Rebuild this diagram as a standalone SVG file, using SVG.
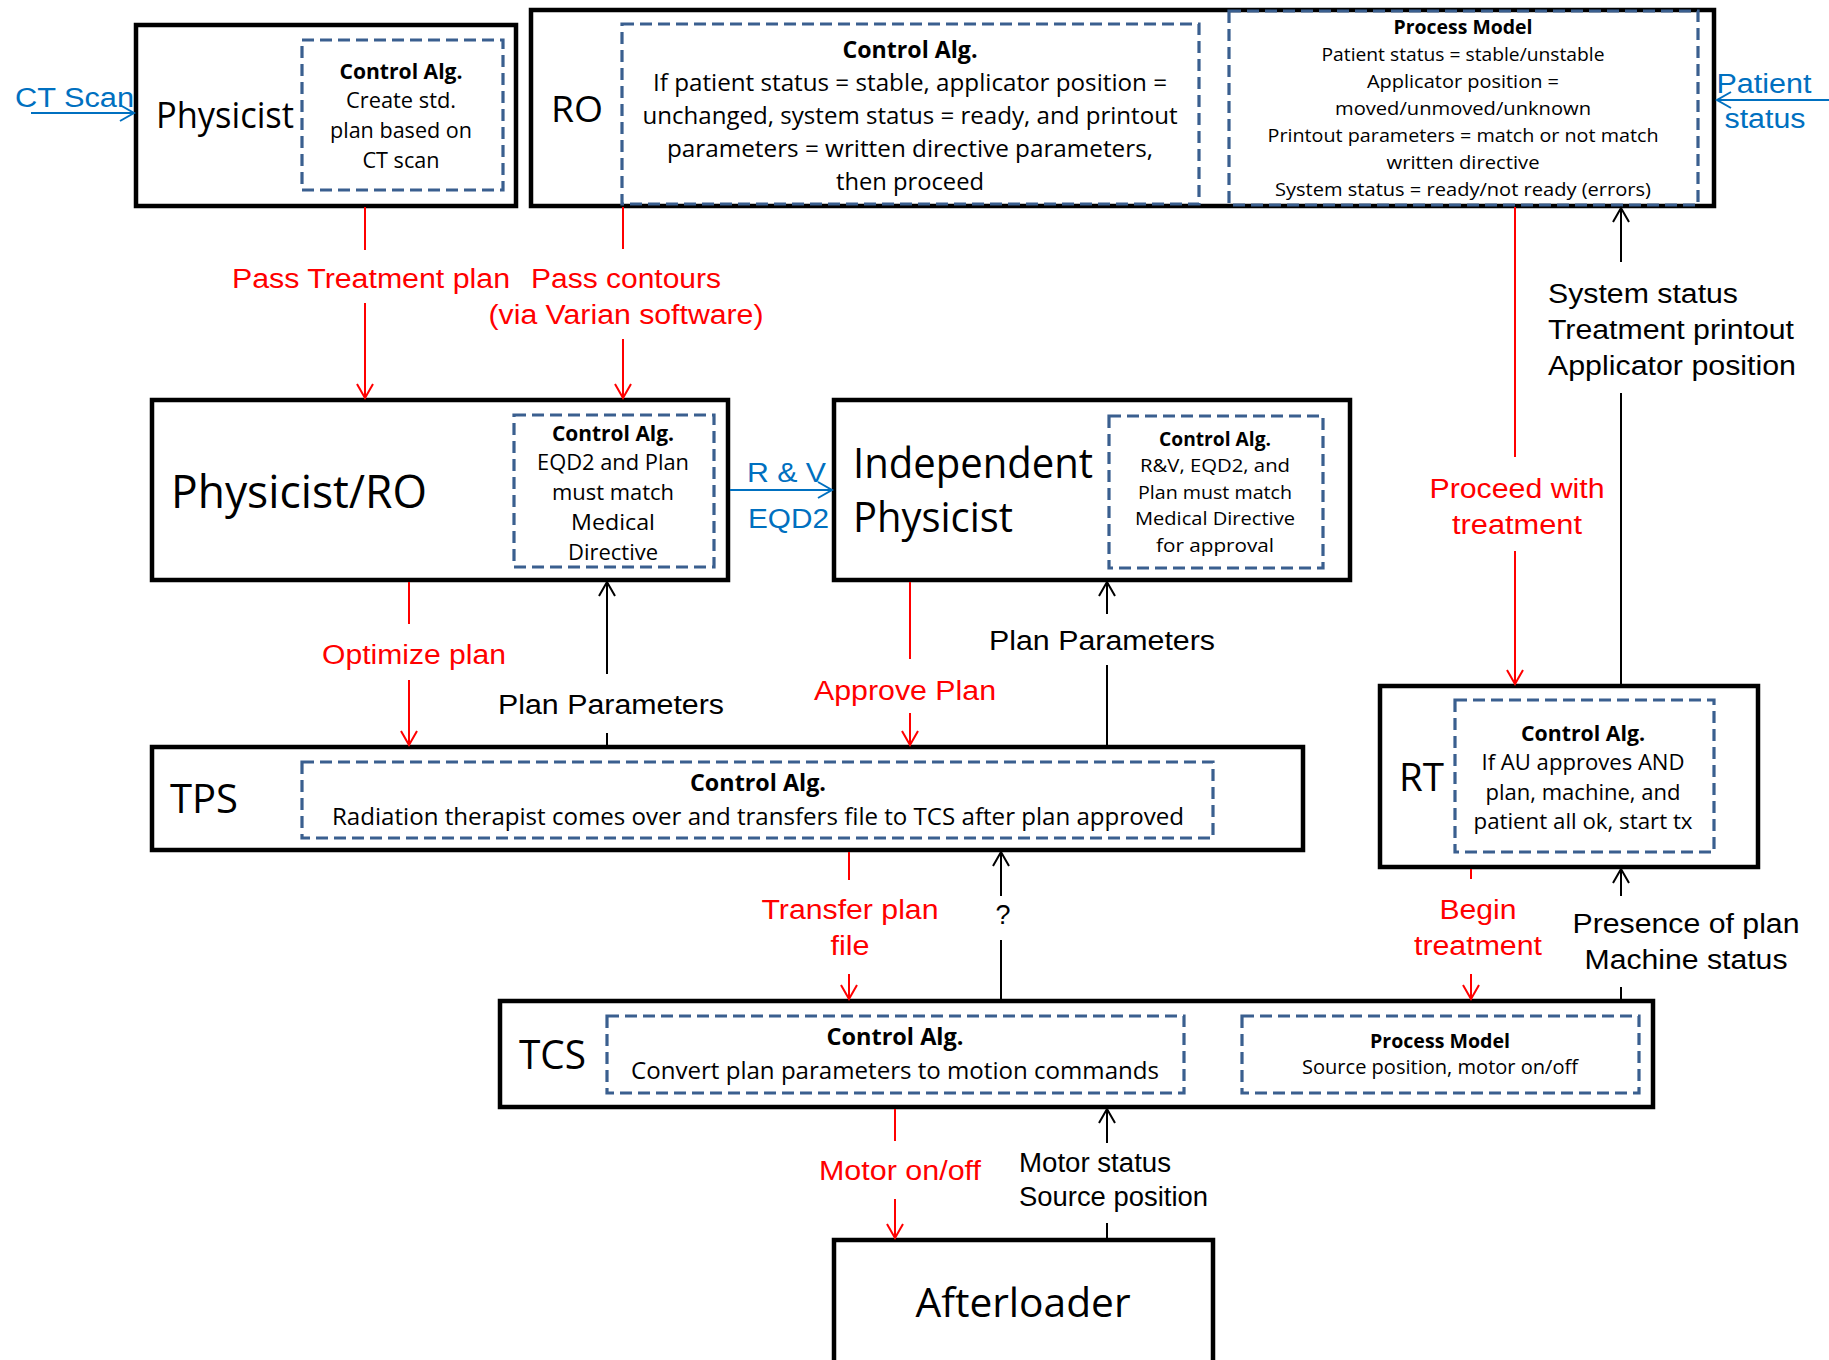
<svg xmlns="http://www.w3.org/2000/svg" width="1829" height="1360" viewBox="0 0 1829 1360">
  <style>
    .box { fill: #ffffff; stroke: #000000; stroke-width: 4.5; }
    .ctl { fill: none; stroke: #3A5F8F; stroke-width: 3.2; stroke-dasharray: 12 6; }
    .nl { font-family: "Open Sans", "Noto Sans", sans-serif; fill: #000000; }
    .it { font-family: "Open Sans", "Noto Sans", sans-serif; fill: #000000; text-anchor: middle; }
    .hd { font-weight: bold; }
    .lbl { font-family: "Liberation Sans", Arial, sans-serif; font-size: 27px; }
    .red { fill: #FF0000; }
    .blk { fill: #000000; }
    .blu { fill: #0070C0; }
    .cr { stroke: #FF0000; stroke-width: 2; fill: none; }
    .ck { stroke: #000000; stroke-width: 2; fill: none; }
    .cb { stroke: #0070C0; stroke-width: 2; fill: none; }
  </style>
  <defs>
    <marker id="ahR" viewBox="-16 -10 18 20" refX="0" refY="0" markerWidth="18" markerHeight="20" markerUnits="userSpaceOnUse" orient="auto">
      <path d="M-14,-8 L0,0 L-14,8" fill="none" stroke="#FF0000" stroke-width="2"/>
    </marker>
    <marker id="ahK" viewBox="-16 -10 18 20" refX="0" refY="0" markerWidth="18" markerHeight="20" markerUnits="userSpaceOnUse" orient="auto">
      <path d="M-14,-8 L0,0 L-14,8" fill="none" stroke="#000000" stroke-width="2"/>
    </marker>
    <marker id="ahB" viewBox="-16 -10 18 20" refX="0" refY="0" markerWidth="18" markerHeight="20" markerUnits="userSpaceOnUse" orient="auto">
      <path d="M-14,-8 L0,0 L-14,8" fill="none" stroke="#0070C0" stroke-width="2"/>
    </marker>
  </defs>

  <rect width="1829" height="1360" fill="#ffffff"/>

  <!-- Physicist -->
  <g id="physicist">
    <rect class="box" x="136" y="25" width="380" height="181"/>
    <rect class="ctl" x="302" y="40" width="201" height="150"/>
    <text class="nl" x="156" y="128" font-size="36" textLength="138" lengthAdjust="spacingAndGlyphs">Physicist</text>
    <text class="it hd" x="401" y="79" font-size="21" textLength="123" lengthAdjust="spacingAndGlyphs">Control Alg.</text>
    <text class="it" x="401" y="108" font-size="21" textLength="110" lengthAdjust="spacingAndGlyphs">Create std.</text>
    <text class="it" x="401" y="138" font-size="21" textLength="142" lengthAdjust="spacingAndGlyphs">plan based on</text>
    <text class="it" x="401" y="168" font-size="21" textLength="77" lengthAdjust="spacingAndGlyphs">CT scan</text>
  </g>

  <!-- RO -->
  <g id="ro">
    <rect class="box" x="531" y="10" width="1183" height="196"/>
    <text class="nl" x="551" y="122" font-size="36" textLength="52" lengthAdjust="spacingAndGlyphs">RO</text>
    <rect class="ctl" x="622" y="24" width="577" height="180"/>
    <text class="it hd" x="910" y="58" font-size="23" textLength="135" lengthAdjust="spacingAndGlyphs">Control Alg.</text>
    <text class="it" x="910" y="91" font-size="23" textLength="514" lengthAdjust="spacingAndGlyphs">If patient status = stable, applicator position =</text>
    <text class="it" x="910" y="124" font-size="23" textLength="535" lengthAdjust="spacingAndGlyphs">unchanged, system status = ready, and printout</text>
    <text class="it" x="910" y="157" font-size="23" textLength="486" lengthAdjust="spacingAndGlyphs">parameters = written directive parameters,</text>
    <text class="it" x="910" y="190" font-size="23" textLength="148" lengthAdjust="spacingAndGlyphs">then proceed</text>
    <rect class="ctl" x="1229" y="11" width="469" height="194"/>
    <text class="it hd" x="1463" y="34" font-size="19" textLength="139" lengthAdjust="spacingAndGlyphs">Process Model</text>
    <text class="it" x="1463" y="61" font-size="19" textLength="283" lengthAdjust="spacingAndGlyphs">Patient status = stable/unstable</text>
    <text class="it" x="1463" y="88" font-size="19" textLength="192" lengthAdjust="spacingAndGlyphs">Applicator position =</text>
    <text class="it" x="1463" y="115" font-size="19" textLength="256" lengthAdjust="spacingAndGlyphs">moved/unmoved/unknown</text>
    <text class="it" x="1463" y="142" font-size="19" textLength="391" lengthAdjust="spacingAndGlyphs">Printout parameters = match or not match</text>
    <text class="it" x="1463" y="169" font-size="19" textLength="153" lengthAdjust="spacingAndGlyphs">written directive</text>
    <text class="it" x="1463" y="196" font-size="19" textLength="376" lengthAdjust="spacingAndGlyphs">System status = ready/not ready (errors)</text>
  </g>

  <!-- Physicist/RO -->
  <g id="physicist-ro">
    <rect class="box" x="152" y="400" width="576" height="180"/>
    <rect class="ctl" x="514" y="415" width="200" height="152"/>
    <text class="nl" x="171" y="508" font-size="46" textLength="256" lengthAdjust="spacingAndGlyphs">Physicist/RO</text>
    <text class="it hd" x="613" y="441" font-size="22" textLength="122" lengthAdjust="spacingAndGlyphs">Control Alg.</text>
    <text class="it" x="613" y="470" font-size="22" textLength="152" lengthAdjust="spacingAndGlyphs">EQD2 and Plan</text>
    <text class="it" x="613" y="500" font-size="22" textLength="122" lengthAdjust="spacingAndGlyphs">must match</text>
    <text class="it" x="613" y="530" font-size="22" textLength="84" lengthAdjust="spacingAndGlyphs">Medical</text>
    <text class="it" x="613" y="560" font-size="22" textLength="90" lengthAdjust="spacingAndGlyphs">Directive</text>
  </g>

  <!-- Independent Physicist -->
  <g id="independent-physicist">
    <rect class="box" x="834" y="400" width="516" height="180"/>
    <rect class="ctl" x="1109" y="416" width="214" height="152"/>
    <text class="nl" x="853" y="478" font-size="42" textLength="240" lengthAdjust="spacingAndGlyphs">Independent</text>
    <text class="nl" x="853" y="532" font-size="42" textLength="160" lengthAdjust="spacingAndGlyphs">Physicist</text>
    <text class="it hd" x="1215" y="446" font-size="19" textLength="112" lengthAdjust="spacingAndGlyphs">Control Alg.</text>
    <text class="it" x="1215" y="472" font-size="19" textLength="150" lengthAdjust="spacingAndGlyphs">R&amp;V, EQD2, and</text>
    <text class="it" x="1215" y="499" font-size="19" textLength="154" lengthAdjust="spacingAndGlyphs">Plan must match</text>
    <text class="it" x="1215" y="525" font-size="19" textLength="160" lengthAdjust="spacingAndGlyphs">Medical Directive</text>
    <text class="it" x="1215" y="552" font-size="19" textLength="118" lengthAdjust="spacingAndGlyphs">for approval</text>
  </g>

  <!-- TPS -->
  <g id="tps">
    <rect class="box" x="152" y="747" width="1151" height="103"/>
    <rect class="ctl" x="302" y="762" width="911" height="76"/>
    <text class="nl" x="170" y="813" font-size="40" textLength="68" lengthAdjust="spacingAndGlyphs">TPS</text>
    <text class="it hd" x="758" y="791" font-size="23" textLength="136" lengthAdjust="spacingAndGlyphs">Control Alg.</text>
    <text class="it" x="758" y="825" font-size="23" textLength="852" lengthAdjust="spacingAndGlyphs">Radiation therapist comes over and transfers file to TCS after plan approved</text>
  </g>

  <!-- RT -->
  <g id="rt">
    <rect class="box" x="1380" y="686" width="378" height="181"/>
    <rect class="ctl" x="1455" y="700" width="259" height="152"/>
    <text class="nl" x="1399" y="791" font-size="38" textLength="45" lengthAdjust="spacingAndGlyphs">RT</text>
    <text class="it hd" x="1583" y="741" font-size="22" textLength="124" lengthAdjust="spacingAndGlyphs">Control Alg.</text>
    <text class="it" x="1583" y="770" font-size="22" textLength="203" lengthAdjust="spacingAndGlyphs">If AU approves AND</text>
    <text class="it" x="1583" y="800" font-size="22" textLength="195" lengthAdjust="spacingAndGlyphs">plan, machine, and</text>
    <text class="it" x="1583" y="829" font-size="22" textLength="219" lengthAdjust="spacingAndGlyphs">patient all ok, start tx</text>
  </g>

  <!-- TCS -->
  <g id="tcs">
    <rect class="box" x="500" y="1001" width="1153" height="106"/>
    <rect class="ctl" x="607" y="1016" width="577" height="77"/>
    <rect class="ctl" x="1242" y="1016" width="397" height="77"/>
    <text class="nl" x="519" y="1069" font-size="40" textLength="67" lengthAdjust="spacingAndGlyphs">TCS</text>
    <text class="it hd" x="895" y="1045" font-size="23" textLength="137" lengthAdjust="spacingAndGlyphs">Control Alg.</text>
    <text class="it" x="895" y="1079" font-size="23" textLength="528" lengthAdjust="spacingAndGlyphs">Convert plan parameters to motion commands</text>
    <text class="it hd" x="1440" y="1048" font-size="20" textLength="140" lengthAdjust="spacingAndGlyphs">Process Model</text>
    <text class="it" x="1440" y="1074" font-size="20" textLength="276" lengthAdjust="spacingAndGlyphs">Source position, motor on/off</text>
  </g>

  <!-- Afterloader -->
  <g id="afterloader">
    <rect class="box" x="834" y="1240" width="379" height="130"/>
    <text class="it" x="1023" y="1317" font-size="40" textLength="215" lengthAdjust="spacingAndGlyphs">Afterloader</text>
  </g>

  <!-- Connectors: control actions (red), feedback (black), external inputs (blue) -->
  <g id="connectors">
    <g id="c-ct-scan">
      <line class="cb" x1="31" y1="113" x2="134" y2="113" marker-end="url(#ahB)"/>
      <text class="lbl blu" x="15" y="107" textLength="119" lengthAdjust="spacingAndGlyphs">CT Scan</text>
    </g>
    <g id="c-patient-status">
      <line class="cb" x1="1829" y1="100" x2="1717" y2="100" marker-end="url(#ahB)"/>
      <text class="lbl blu" x="1764" y="93" text-anchor="middle" textLength="95" lengthAdjust="spacingAndGlyphs">Patient</text>
      <text class="lbl blu" x="1765" y="128" text-anchor="middle" textLength="81" lengthAdjust="spacingAndGlyphs">status</text>
    </g>
    <g id="c-pass-plan">
      <line class="cr" x1="365" y1="207" x2="365" y2="250"/>
      <line class="cr" x1="365" y1="303" x2="365" y2="398" marker-end="url(#ahR)"/>
      <text class="lbl red" x="371" y="288" text-anchor="middle" textLength="278" lengthAdjust="spacingAndGlyphs">Pass Treatment plan</text>
    </g>
    <g id="c-pass-contours">
      <line class="cr" x1="623" y1="207" x2="623" y2="249"/>
      <line class="cr" x1="623" y1="339" x2="623" y2="398" marker-end="url(#ahR)"/>
      <text class="lbl red" x="626" y="288" text-anchor="middle" textLength="190" lengthAdjust="spacingAndGlyphs">Pass contours</text>
      <text class="lbl red" x="626" y="324" text-anchor="middle" textLength="275" lengthAdjust="spacingAndGlyphs">(via Varian software)</text>
    </g>
    <g id="c-optimize">
      <line class="cr" x1="409" y1="582" x2="409" y2="624"/>
      <line class="cr" x1="409" y1="680" x2="409" y2="745" marker-end="url(#ahR)"/>
      <text class="lbl red" x="414" y="664" text-anchor="middle" textLength="184" lengthAdjust="spacingAndGlyphs">Optimize plan</text>
    </g>
    <g id="c-plan-params-1">
      <line class="ck" x1="607" y1="745" x2="607" y2="733"/>
      <line class="ck" x1="607" y1="674" x2="607" y2="582" marker-end="url(#ahK)"/>
      <text class="lbl blk" x="611" y="714" text-anchor="middle" textLength="226" lengthAdjust="spacingAndGlyphs">Plan Parameters</text>
    </g>
    <g id="c-rv-eqd2">
      <line class="cb" x1="730" y1="490" x2="832" y2="490" marker-end="url(#ahB)"/>
      <text class="lbl blu" x="747" y="482" textLength="79" lengthAdjust="spacingAndGlyphs">R &amp; V</text>
      <text class="lbl blu" x="748" y="528" textLength="81" lengthAdjust="spacingAndGlyphs">EQD2</text>
    </g>
    <g id="c-approve">
      <line class="cr" x1="910" y1="582" x2="910" y2="659"/>
      <line class="cr" x1="910" y1="713" x2="910" y2="745" marker-end="url(#ahR)"/>
      <text class="lbl red" x="905" y="700" text-anchor="middle" textLength="182" lengthAdjust="spacingAndGlyphs">Approve Plan</text>
    </g>
    <g id="c-plan-params-2">
      <line class="ck" x1="1107" y1="745" x2="1107" y2="665"/>
      <line class="ck" x1="1107" y1="614" x2="1107" y2="582" marker-end="url(#ahK)"/>
      <text class="lbl blk" x="1102" y="650" text-anchor="middle" textLength="226" lengthAdjust="spacingAndGlyphs">Plan Parameters</text>
    </g>
    <g id="c-proceed">
      <line class="cr" x1="1515" y1="207" x2="1515" y2="457"/>
      <line class="cr" x1="1515" y1="551" x2="1515" y2="684" marker-end="url(#ahR)"/>
      <text class="lbl red" x="1517" y="498" text-anchor="middle" textLength="175" lengthAdjust="spacingAndGlyphs">Proceed with</text>
      <text class="lbl red" x="1517" y="534" text-anchor="middle" textLength="130" lengthAdjust="spacingAndGlyphs">treatment</text>
    </g>
    <g id="c-system-status">
      <line class="ck" x1="1621" y1="684" x2="1621" y2="393"/>
      <line class="ck" x1="1621" y1="262" x2="1621" y2="208" marker-end="url(#ahK)"/>
      <text class="lbl blk" x="1548" y="303" textLength="190" lengthAdjust="spacingAndGlyphs">System status</text>
      <text class="lbl blk" x="1548" y="339" textLength="246" lengthAdjust="spacingAndGlyphs">Treatment printout</text>
      <text class="lbl blk" x="1548" y="375" textLength="248" lengthAdjust="spacingAndGlyphs">Applicator position</text>
    </g>
    <g id="c-transfer">
      <line class="cr" x1="849" y1="852" x2="849" y2="880"/>
      <line class="cr" x1="849" y1="974" x2="849" y2="999" marker-end="url(#ahR)"/>
      <text class="lbl red" x="850" y="919" text-anchor="middle" textLength="177" lengthAdjust="spacingAndGlyphs">Transfer plan</text>
      <text class="lbl red" x="850" y="955" text-anchor="middle" textLength="39" lengthAdjust="spacingAndGlyphs">file</text>
    </g>
    <g id="c-unknown">
      <line class="ck" x1="1001" y1="999" x2="1001" y2="940"/>
      <line class="ck" x1="1001" y1="896" x2="1001" y2="852" marker-end="url(#ahK)"/>
      <text class="lbl blk" x="1003" y="924" text-anchor="middle">?</text>
    </g>
    <g id="c-begin">
      <line class="cr" x1="1471" y1="869" x2="1471" y2="879"/>
      <line class="cr" x1="1471" y1="974" x2="1471" y2="999" marker-end="url(#ahR)"/>
      <text class="lbl red" x="1478" y="919" text-anchor="middle" textLength="77" lengthAdjust="spacingAndGlyphs">Begin</text>
      <text class="lbl red" x="1478" y="955" text-anchor="middle" textLength="128" lengthAdjust="spacingAndGlyphs">treatment</text>
    </g>
    <g id="c-presence">
      <line class="ck" x1="1621" y1="999" x2="1621" y2="987"/>
      <line class="ck" x1="1621" y1="896" x2="1621" y2="869" marker-end="url(#ahK)"/>
      <text class="lbl blk" x="1686" y="933" text-anchor="middle" textLength="227" lengthAdjust="spacingAndGlyphs">Presence of plan</text>
      <text class="lbl blk" x="1686" y="969" text-anchor="middle" textLength="203" lengthAdjust="spacingAndGlyphs">Machine status</text>
    </g>
    <g id="c-motor">
      <line class="cr" x1="895" y1="1109" x2="895" y2="1141"/>
      <line class="cr" x1="895" y1="1199" x2="895" y2="1238" marker-end="url(#ahR)"/>
      <text class="lbl red" x="900" y="1180" text-anchor="middle" textLength="162" lengthAdjust="spacingAndGlyphs">Motor on/off</text>
    </g>
    <g id="c-motor-status">
      <line class="ck" x1="1107" y1="1238" x2="1107" y2="1223"/>
      <line class="ck" x1="1107" y1="1143" x2="1107" y2="1109" marker-end="url(#ahK)"/>
      <text class="lbl blk" x="1019" y="1172" textLength="152" lengthAdjust="spacingAndGlyphs">Motor status</text>
      <text class="lbl blk" x="1019" y="1206" textLength="189" lengthAdjust="spacingAndGlyphs">Source position</text>
    </g>
  </g>
</svg>
